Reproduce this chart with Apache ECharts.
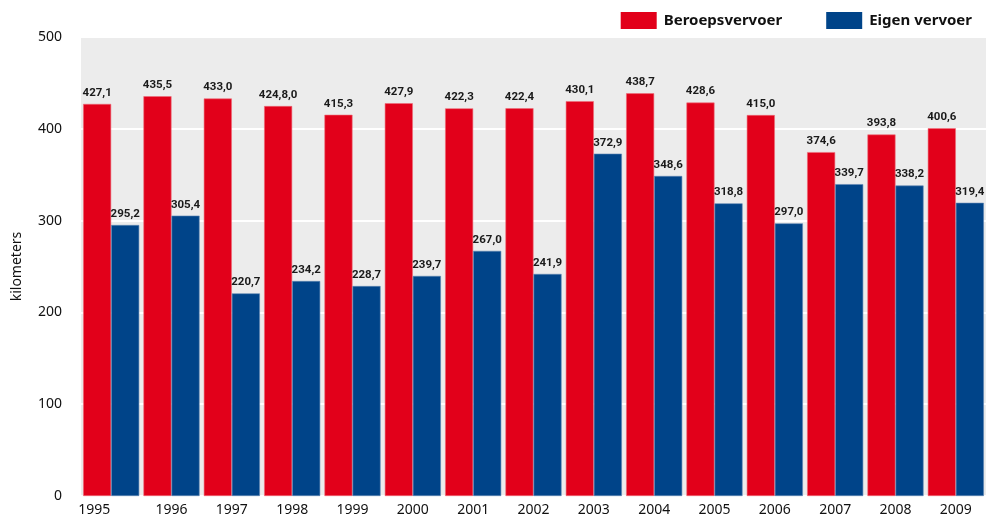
<!DOCTYPE html>
<html>
<head>
<meta charset="utf-8">
<script src="https://cdn.jsdelivr.net/npm/echarts@6/dist/echarts.min.js"></script>
<style>
  html, body { margin: 0; padding: 0; background: #fff; }
  #chart { width: 986px; height: 517px; }
</style>
</head>
<body>
<div id="chart"></div>
<script>
  var years = ['1995', '1996', '1997', '1998', '1999', '2000', '2001', '2002', '2003', '2004', '2005', '2006', '2007', '2008', '2009'];
  var beroeps = [427.1, 435.5, 433.0, 424.8, 415.3, 427.9, 422.3, 422.4, 430.1, 438.7, 428.6, 415.0, 374.6, 393.8, 400.6];
  var eigen = [295.2, 305.4, 220.7, 234.2, 228.7, 239.7, 267.0, 241.9, 372.9, 348.6, 318.8, 297.0, 339.7, 338.2, 319.4];
  // labels as printed in the source (1998 has a stray ",0")
  var beroepsLabels = ['427,1', '435,5', '433,0', '424,8,0', '415,3', '427,9', '422,3', '422,4', '430,1', '438,7', '428,6', '415,0', '374,6', '393,8', '400,6'];
  var eigenLabels = ['295,2', '305,4', '220,7', '234,2', '228,7', '239,7', '267,0', '241,9', '372,9', '348,6', '318,8', '297,0', '339,7', '338,2', '319,4'];
  var yTicks = [0, 100, 200, 300, 400, 500];

  var labelFont = "Roboto, sans-serif";
  var axisFont = "'Noto Sans', 'Open Sans', sans-serif";

  var myChart = echarts.init(document.getElementById('chart'));
  var option = {
    animation: false,
    legend: {
      right: 9,
      top: 7,
      itemWidth: 36,
      itemHeight: 17,
      itemGap: 44,
      icon: 'rect',
      itemStyle: { borderWidth: 0 },
      textStyle: {
        fontFamily: axisFont,
        fontWeight: 'bold',
        fontSize: 15,
        color: '#111',
        padding: [0, 0, 0, 2]
      }
    },
    grid: {
      left: 81,
      right: 0,
      top: 37,
      bottom: 20,
      show: true,
      backgroundColor: '#ececec',
      borderWidth: 0
    },
    xAxis: {
      type: 'category',
      data: years,
      axisLine: { show: false },
      axisTick: { show: false },
      axisLabel: {
        interval: 0,
        margin: 7,
        fontFamily: axisFont,
        fontSize: 14,
        color: '#111',
        formatter: function (v, i) {
          return i === 0 ? '{first|' + v + '}' : v;
        },
        rich: {
          first: {
            fontFamily: axisFont,
            fontSize: 14,
            color: '#111',
            padding: [0, 34, 0, 0]
          }
        }
      }
    },
    yAxis: {
      type: 'value',
      min: yTicks[0],
      max: yTicks[yTicks.length - 1],
      interval: 100,
      name: 'kilometers',
      nameLocation: 'middle',
      nameGap: 57,
      nameRotate: 90,
      nameTextStyle: {
        fontFamily: axisFont,
        fontSize: 14,
        color: '#111'
      },
      axisLine: { show: false },
      axisTick: { show: false },
      axisLabel: {
        margin: 19,
        fontFamily: axisFont,
        fontSize: 14,
        color: '#111'
      },
      splitLine: {
        lineStyle: { color: '#ffffff', width: 2 }
      }
    },
    series: [
      {
        name: 'Beroepsvervoer',
        type: 'bar',
        data: beroeps,
        barGap: '0%',
        barCategoryGap: '7%',
        itemStyle: {
          color: '#e2001a',
          borderColor: '#ef6b78',
          borderWidth: 0.6
        },
        label: {
          show: true,
          position: 'top',
          distance: 5,
          fontFamily: labelFont,
          fontWeight: 'bold',
          fontSize: 11.5,
          color: '#1a1a1a',
          formatter: function (p) { return beroepsLabels[p.dataIndex]; }
        }
      },
      {
        name: 'Eigen vervoer',
        type: 'bar',
        data: eigen,
        itemStyle: {
          color: '#004489',
          borderColor: '#5f86b3',
          borderWidth: 0.6
        },
        label: {
          show: true,
          position: 'top',
          distance: 5,
          fontFamily: labelFont,
          fontWeight: 'bold',
          fontSize: 11.5,
          color: '#1a1a1a',
          formatter: function (p) { return eigenLabels[p.dataIndex]; }
        }
      }
    ]
  };
  myChart.setOption(option);
</script>
</body>
</html>
